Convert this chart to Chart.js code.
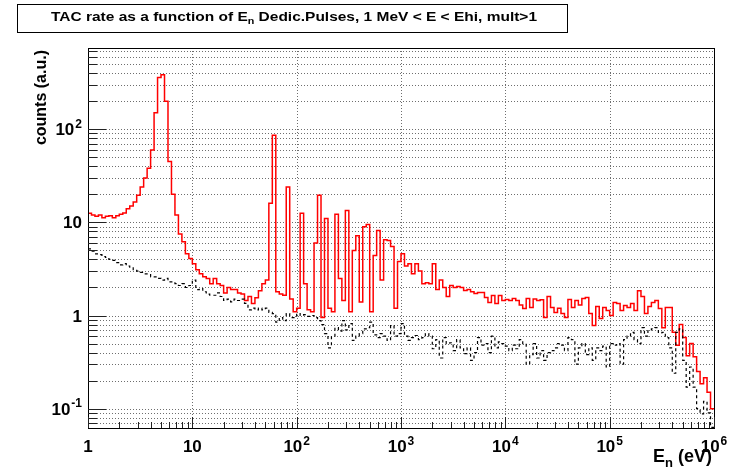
<!DOCTYPE html>
<html><head><meta charset="utf-8">
<script src="https://cdn.jsdelivr.net/npm/chart.js@4/dist/chart.umd.min.js"></script>
<style>html,body{margin:0;padding:0;background:#fff}canvas{display:block}</style>
</head><body>
<canvas id="c" width="740" height="467"></canvas>
<script>
// ---- data ----
const binsPerDecade = 30;            // log bins, 1 eV .. 1 MeV
const xMin = 1, xMax = 1e6;
const yMin = 0.062, yMax = 745;
const xTickValues = [1, 10, 100, 1000, 1e4, 1e5, 1e6];
const xTickLabels = [["1",""],["10",""],["10","2"],["10","3"],["10","4"],["10","5"],["10","6"]];
const yTickValues = [0.1, 1, 10, 100];
const yTickLabels = [["10","-1"],["1",""],["10",""],["10","2"]];
const titleMain = ["TAC rate as a function of E", "n", " Dedic.Pulses, 1 MeV < E < Ehi, mult>1"];
const yTitle = "counts (a.u.)";
const xTitle = ["E", "n", " (eV)"];

// TAC rate, multiplicity > 1 (red)
const redCounts = [
 12.5,12.0,11.6,12.0,11.2,11.6,11.8,11.2,11.8,12.2,
 12.6,14,15,16.5,19.5,24,30,38,60,150,
 360,385,200,45,20,12,7.5,6.2,4.6,4.1,
 3.6,3.1,2.8,2.6,2.5,2.2,2.5,2.2,2.1,1.75,
 2.0,1.9,1.9,1.75,1.7,1.45,1.6,1.35,1.55,1.85,
 2.2,2.4,16,86,1.8,1.7,1.65,24,1.5,1.1,
 1.2,12.5,2.2,1.15,1.1,6,19.5,0.95,11,1.2,
 1.1,12.2,2.5,1.45,13.4,1.1,5,7.2,1.4,9.0,
 9.5,1.1,4.4,8.2,2.4,6.5,6.4,5.5,1.2,3.8,
 4.6,3.4,3.6,2.8,3.6,3.0,2.2,2.25,2.2,3.6,
 1.9,2.4,2.0,1.6,2.1,2.0,2.05,2.0,1.86,1.9,
 1.8,1.72,1.77,1.77,1.56,1.38,1.64,1.35,1.64,1.45,
 1.49,1.45,1.52,1.45,1.3,1.19,1.52,1.22,1.5,1.45,
 1.48,0.95,1.6,1.22,1.08,1.2,1.05,0.95,1.49,1.22,
 1.45,1.3,1.52,1.56,1.05,0.78,1.25,0.93,1.22,1.13,
 1.0,1.38,1.35,1.13,1.28,1.22,1.35,1.13,1.85,1.6,
 1.05,1.25,1.38,1.45,1.19,0.74,1.22,1.22,0.66,0.48,
 0.8,0.58,0.37,0.5,0.36,0.25,0.185,0.215,0.15,0.1
];
// background (black dashed)
const bkgCounts = [
 5.2,4.9,4.6,4.5,4.3,4.2,4.0,3.9,3.7,3.5,
 3.6,3.4,3.3,3.1,3.0,2.9,2.8,2.8,2.6,2.6,
 2.5,2.4,2.5,2.3,2.3,2.2,2.1,2.2,2.0,2.1,
 2.4,1.9,1.95,1.8,1.7,1.65,1.65,1.75,1.6,1.45,
 1.5,1.4,1.5,1.45,1.5,1.35,1.15,1.2,1.15,1.2,
 1.15,1.2,1.08,1.05,0.85,0.95,0.88,1.05,0.95,0.95,
 1.05,1.0,1.02,0.98,1.0,0.95,0.88,0.8,0.64,0.45,
 0.6,0.74,0.68,0.88,0.7,0.82,0.54,0.6,0.64,0.72,
 0.74,0.85,0.62,0.58,0.64,0.6,0.54,0.78,0.6,0.64,
 0.82,0.6,0.54,0.58,0.61,0.55,0.58,0.64,0.6,0.44,
 0.55,0.35,0.58,0.5,0.51,0.42,0.55,0.45,0.39,0.45,
 0.33,0.4,0.58,0.48,0.5,0.4,0.6,0.45,0.52,0.5,
 0.47,0.42,0.48,0.44,0.55,0.5,0.3,0.38,0.5,0.35,
 0.42,0.33,0.4,0.42,0.45,0.5,0.48,0.42,0.58,0.55,
 0.3,0.45,0.5,0.38,0.45,0.33,0.45,0.42,0.47,0.28,
 0.5,0.48,0.5,0.3,0.55,0.6,0.66,0.55,0.5,0.74,
 0.6,0.7,0.72,0.74,0.65,0.66,0.58,0.45,0.24,0.66,
 0.72,0.33,0.17,0.28,0.17,0.1,0.088,0.12,0.09,0.063
];

// ---- build ----
const edges = Array.from({length: redCounts.length + 1}, (_, i) => Math.pow(10, i / binsPerDecade));
function toSteps(counts) {
  const pts = counts.map((v, i) => ({x: edges[i], y: v}));
  pts.push({x: edges[counts.length], y: counts[counts.length - 1]});
  return pts;
}

const FONT = '"Liberation Sans", Arial, Helvetica, sans-serif';
const LBL = 17;

function drawPow(ctx, base, exp, x, y, align, size) {
  ctx.font = 'bold ' + size + 'px ' + FONT;
  const wb = ctx.measureText(base).width;
  const es = Math.round(size * 0.68);
  ctx.font = 'bold ' + es + 'px ' + FONT;
  const we = exp ? ctx.measureText(exp).width + 1 : 0;
  const w = wb + we;
  let sx = align === 'center' ? x - w / 2 : (align === 'right' ? x - w : x);
  ctx.textAlign = 'left';
  ctx.textBaseline = 'alphabetic';
  ctx.font = 'bold ' + size + 'px ' + FONT;
  ctx.fillText(base, sx, y);
  if (exp) {
    ctx.font = 'bold ' + es + 'px ' + FONT;
    ctx.fillText(exp, sx + wb + 1, y - size * 0.45);
  }
}
// text with a subscript; optional target width (stretched horizontally)
function drawSub(ctx, parts, x, y, align, size, targetW) {
  const ss = Math.round(size * 0.7);
  ctx.font = 'bold ' + size + 'px ' + FONT; const w0 = ctx.measureText(parts[0]).width;
  ctx.font = 'bold ' + ss + 'px ' + FONT; const w1 = ctx.measureText(parts[1]).width;
  ctx.font = 'bold ' + size + 'px ' + FONT; const w2 = ctx.measureText(parts[2]).width;
  const w = w0 + w1 + w2;
  const k = targetW ? targetW / w : 1;
  const W = w * k;
  let sx = align === 'center' ? x - W / 2 : (align === 'right' ? x - W : x);
  ctx.save();
  ctx.translate(sx, y);
  ctx.scale(k, 1);
  ctx.textAlign = 'left'; ctx.textBaseline = 'alphabetic';
  ctx.font = 'bold ' + size + 'px ' + FONT; ctx.fillText(parts[0], 0, 0);
  ctx.font = 'bold ' + ss + 'px ' + FONT; ctx.fillText(parts[1], w0, size * 0.25);
  ctx.font = 'bold ' + size + 'px ' + FONT; ctx.fillText(parts[2], w0 + w1, 0);
  ctx.restore();
}

const rootStyle = {
  id: 'rootStyle',
  beforeDatasetsDraw(chart) {
    const {ctx, chartArea: a, scales: {x, y}} = chart;
    ctx.save();
    ctx.strokeStyle = '#6e6e6e'; ctx.lineWidth = 1; ctx.setLineDash([1, 2]);
    ctx.beginPath();
    for (let k = -2; k <= 3; k++) for (let m = 1; m <= 9; m++) {
      const v = m * Math.pow(10, k);
      if (v < yMin || v > yMax) continue;
      const py = Math.round(y.getPixelForValue(v)) + 0.5;
      ctx.moveTo(a.left, py); ctx.lineTo(a.right, py);
    }
    for (const v of xTickValues) {
      if (v <= xMin || v >= xMax) continue;
      const px = Math.round(x.getPixelForValue(v)) + 0.5;
      ctx.moveTo(px, a.top); ctx.lineTo(px, a.bottom);
    }
    ctx.stroke();
    ctx.restore();
  },
  afterDatasetsDraw(chart) {
    const {ctx, chartArea: a, scales: {x, y}} = chart;
    ctx.save();
    ctx.setLineDash([]);
    // frame
    ctx.strokeStyle = '#000'; ctx.lineWidth = 1;
    ctx.strokeRect(Math.round(a.left) + 0.5, Math.round(a.top) + 0.5, Math.round(a.right - a.left), Math.round(a.bottom - a.top));
    // y ticks
    ctx.strokeStyle = '#222';
    ctx.beginPath();
    for (let k = -2; k <= 3; k++) for (let m = 1; m <= 9; m++) {
      const v = m * Math.pow(10, k);
      if (v < yMin || v > yMax) continue;
      const py = Math.round(y.getPixelForValue(v)) + 0.5;
      const len = m === 1 ? 18 : 9;
      ctx.moveTo(a.left, py); ctx.lineTo(a.left + len, py);
    }
    // x ticks
    for (let k = 0; k <= 6; k++) for (let m = 1; m <= 9; m++) {
      const v = m * Math.pow(10, k);
      if (v < xMin || v > xMax) continue;
      const px = Math.round(x.getPixelForValue(v)) + 0.5;
      const len = m === 1 ? 11 : 6;
      ctx.moveTo(px, a.bottom); ctx.lineTo(px, a.bottom - len);
    }
    ctx.stroke();
    // tick labels
    ctx.fillStyle = '#000';
    yTickValues.forEach((v, i) => {
      const py = y.getPixelForValue(v);
      drawPow(ctx, yTickLabels[i][0], yTickLabels[i][1], a.left - 6, py + LBL * 0.36, 'right', LBL);
    });
    xTickValues.forEach((v, i) => {
      const px = x.getPixelForValue(v);
      drawPow(ctx, xTickLabels[i][0], xTickLabels[i][1], px, a.bottom + 12 + LBL * 0.72, 'center', LBL);
    });
    // axis titles
    ctx.save();
    ctx.translate(46, a.top + 2);
    ctx.rotate(-Math.PI / 2);
    ctx.font = 'bold 16px ' + FONT;
    ctx.textAlign = 'right'; ctx.textBaseline = 'alphabetic';
    ctx.fillText(yTitle, 0, 0);
    ctx.restore();
    drawSub(ctx, xTitle, a.right - 2, 462, 'right', 18);
    // title box
    ctx.fillStyle = '#fff';
    ctx.fillRect(17, 4, 550, 28);
    ctx.strokeStyle = '#000'; ctx.lineWidth = 1;
    ctx.strokeRect(17.5, 4.5, 550, 28);
    ctx.fillStyle = '#000';
    drawSub(ctx, titleMain, 294, 21, 'center', 13, 486);
    ctx.restore();
  }
};

new Chart(document.getElementById('c').getContext('2d'), {
  type: 'line',
  data: {
    datasets: [
      {label: 'background', data: toSteps(bkgCounts), stepped: true, borderColor: '#000', borderWidth: 1.2, borderDash: [3, 3], pointRadius: 0, fill: false},
      {label: 'TAC rate', data: toSteps(redCounts), stepped: true, borderColor: '#ff0000', borderWidth: 1.5, pointRadius: 0, fill: false}
    ]
  },
  options: {
    responsive: false,
    animation: false,
    layout: {padding: {left: 88, right: 26, top: 48, bottom: 39}},
    plugins: {legend: {display: false}, tooltip: {enabled: false}, title: {display: false}},
    scales: {
      x: {type: 'logarithmic', min: xMin, max: xMax, display: false},
      y: {type: 'logarithmic', min: yMin, max: yMax, display: false}
    }
  },
  plugins: [rootStyle]
});
</script>
</body></html>
